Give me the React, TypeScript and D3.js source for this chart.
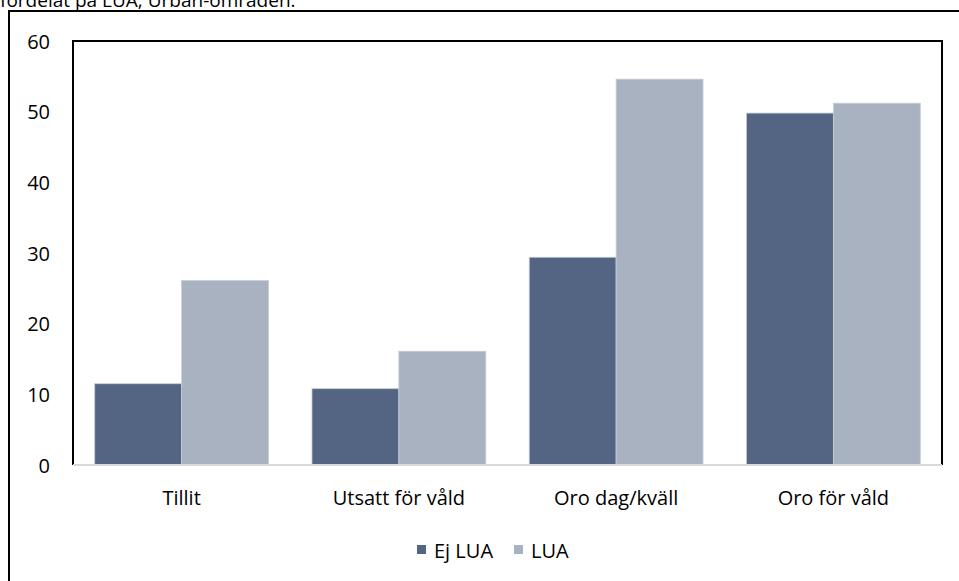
import React from "react";
import * as d3 from "d3";

const categories = ["Tillit", "Utsatt för våld", "Oro dag/kväll", "Oro för våld"];
const seriesNames = ["Ej LUA", "LUA"];
const ejLua = [11.5, 10.8, 29.4, 49.8];
const lua = [26.1, 16.1, 54.6, 51.2];
const yTicks = [0, 10, 20, 30, 40, 50, 60];
const colors = ["#536582", "#A9B2C1"];
const caption = "fördelat på LUA, Urban-områden.";

const W = 959;
const H = 581;
const plot = { left: 73, right: 942, top: 41, bottom: 465 };
const FONT = "'Open Sans', 'Noto Sans', sans-serif";
const FS = 20;

export default function App() {
  const x = d3
    .scaleBand<string>()
    .domain(categories)
    .range([plot.left, plot.right])
    .paddingInner(0.2)
    .paddingOuter(0.1);
  const x1 = d3.scaleBand<string>().domain(seriesNames).range([0, x.bandwidth()]);
  const y = d3.scaleLinear().domain([0, 60]).range([plot.bottom, plot.top]);
  const series = [ejLua, lua];

  return (
    <svg
      width={W}
      height={H}
      style={{ position: "absolute", left: 0, top: 0, background: "#fff" }}
      fontFamily={FONT}
    >
      <text x={0} y={7} fontSize={19} fill="#000">
        {caption}
      </text>
      {/* outer frame */}
      <rect x={9} y={11} width={W + 10} height={H + 10} fill="none" stroke="#000" strokeWidth={2} />
      {/* plot frame */}
      <path
        d={`M${plot.left},${plot.bottom} V${plot.top} H${plot.right} V${plot.bottom}`}
        fill="none"
        stroke="#000"
        strokeWidth={2}
      />
      {/* bars */}
      {series.map((vals, si) =>
        vals.map((v, i) => (
          <rect
            key={`${si}-${i}`}
            x={(x(categories[i]) ?? 0) + (x1(seriesNames[si]) ?? 0)}
            y={y(v)}
            width={x1.bandwidth()}
            height={y(0) - y(v)}
            fill={colors[si]}
            stroke="#c6ccd6"
            strokeWidth={0.8}
          />
        ))
      )}
      {/* x axis line */}
      <line x1={plot.left} x2={plot.right} y1={y(0)} y2={y(0)} stroke="#d9d9d9" strokeWidth={2} />
      {/* y ticks */}
      {yTicks.map((t) => (
        <text
          key={t}
          x={50}
          y={y(t)}
          textAnchor="end"
          dominantBaseline="central"
          fontSize={FS}
          fill="#000"
        >
          {t}
        </text>
      ))}
      {/* category labels */}
      {categories.map((c) => (
        <text
          key={c}
          x={(x(c) ?? 0) + x.bandwidth() / 2}
          y={497}
          textAnchor="middle"
          dominantBaseline="central"
          fontSize={FS}
          fill="#000"
        >
          {c}
        </text>
      ))}
      {/* legend */}
      {seriesNames.map((s, i) => {
        const lx = [417, 514][i];
        return (
          <g key={s}>
            <rect x={lx} y={545} width={9} height={9} fill={colors[i]} />
            <text x={lx + 17} y={550} dominantBaseline="central" fontSize={FS} fill="#000">
              {s}
            </text>
          </g>
        );
      })}
    </svg>
  );
}
